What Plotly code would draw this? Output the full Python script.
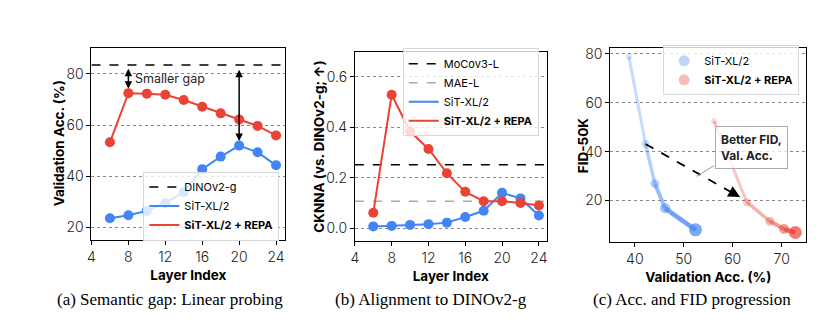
import plotly.graph_objects as go

# ---------------- data ----------------
layers = [6, 8, 10, 12, 14, 16, 18, 20, 22, 24]

# (a) linear probing
acc_sit = [23.6, 24.8, 26.5, 29.5, 33.9, 42.8, 47.7, 52.0, 49.4, 44.3]
acc_repa = [53.3, 72.5, 72.3, 71.9, 69.8, 67.2, 64.6, 62.2, 59.7, 56.0]
acc_dino = 83.5

# (b) CKNNA alignment
cknna_sit = [0.007, 0.009, 0.013, 0.016, 0.022, 0.044, 0.069, 0.140, 0.118, 0.050]
cknna_repa = [0.061, 0.529, 0.384, 0.314, 0.218, 0.144, 0.107, 0.107, 0.100, 0.090]
cknna_mocov3 = 0.251
cknna_mae = 0.107

# (c) Acc vs FID progression
prog_sit_acc = [38.8, 42.2, 44.1, 46.2, 52.4]
prog_sit_fid = [78.8, 43.1, 26.9, 16.8, 8.0]
prog_repa_acc = [56.2, 62.9, 67.6, 70.5, 72.8]
prog_repa_fid = [52.4, 19.3, 11.5, 8.3, 6.9]

captions = ["(a) Semantic gap: Linear probing", "(b) Alignment to DINOv2-g",
            "(c) Acc. and FID progression"]
y_titles = ["Validation Acc. (%)", "CKNNA (vs. DINOv2-g; ↑)", "FID-50K"]

# ---------------- style ----------------
BLUE = (66, 133, 244)
RED = (234, 67, 53)
FONT = "Inter"


def rgba(c, a):
    return f"rgba({c[0]},{c[1]},{c[2]},{a})"


fig = go.Figure()

# ---- panel a ----
fig.add_trace(go.Scatter(x=[4, 25], y=[acc_dino, acc_dino], mode="lines",
                         line=dict(color="black", width=1.5, dash="dash"),
                         name="DINOv2-g", legend="legend", xaxis="x", yaxis="y"))
fig.add_trace(go.Scatter(x=layers, y=acc_sit, mode="lines+markers",
                         line=dict(color=rgba(BLUE, 1), width=2),
                         marker=dict(size=10, color=rgba(BLUE, 1)),
                         showlegend=False, xaxis="x", yaxis="y"))
fig.add_trace(go.Scatter(x=layers, y=acc_repa, mode="lines+markers",
                         line=dict(color=rgba(RED, 1), width=2),
                         marker=dict(size=10, color=rgba(RED, 1)),
                         showlegend=False, xaxis="x", yaxis="y"))
fig.add_trace(go.Scatter(x=[None], y=[None], mode="lines",
                         line=dict(color=rgba(BLUE, 1), width=2),
                         name="SiT-XL/2", legend="legend", xaxis="x", yaxis="y"))
fig.add_trace(go.Scatter(x=[None], y=[None], mode="lines",
                         line=dict(color=rgba(RED, 1), width=2),
                         name="<b>SiT-XL/2 + REPA</b>", legend="legend", xaxis="x", yaxis="y"))

# ---- panel b ----
fig.add_trace(go.Scatter(x=[4, 25], y=[cknna_mocov3, cknna_mocov3], mode="lines",
                         line=dict(color="black", width=1.5, dash="dash"),
                         name="MoCov3-L", legend="legend2", xaxis="x2", yaxis="y2"))
fig.add_trace(go.Scatter(x=[4, 25], y=[cknna_mae, cknna_mae], mode="lines",
                         line=dict(color="#aaaaaa", width=1.5, dash="dash"),
                         name="MAE-L", legend="legend2", xaxis="x2", yaxis="y2"))
fig.add_trace(go.Scatter(x=layers, y=cknna_sit, mode="lines+markers",
                         line=dict(color=rgba(BLUE, 1), width=2),
                         marker=dict(size=10, color=rgba(BLUE, 1)),
                         showlegend=False, xaxis="x2", yaxis="y2"))
fig.add_trace(go.Scatter(x=layers, y=cknna_repa, mode="lines+markers",
                         line=dict(color=rgba(RED, 1), width=2),
                         marker=dict(size=10, color=rgba(RED, 1)),
                         showlegend=False, xaxis="x2", yaxis="y2"))
fig.add_trace(go.Scatter(x=[None], y=[None], mode="lines",
                         line=dict(color=rgba(BLUE, 1), width=2),
                         name="SiT-XL/2", legend="legend2", xaxis="x2", yaxis="y2"))
fig.add_trace(go.Scatter(x=[None], y=[None], mode="lines",
                         line=dict(color=rgba(RED, 1), width=2),
                         name="<b>SiT-XL/2 + REPA</b>", legend="legend2", xaxis="x2", yaxis="y2"))

# ---- panel c ----
seg_alpha = [0.3, 0.4, 0.55, 0.75]
seg_width = [3, 3.5, 4, 4.5]
pt_alpha = [0.3, 0.4, 0.55, 0.75, 1.0]
pt_size = [6, 8, 9, 10, 13]
for accs, fids, col in [(prog_sit_acc, prog_sit_fid, BLUE), (prog_repa_acc, prog_repa_fid, RED)]:
    for i in range(len(accs) - 1):
        fig.add_trace(go.Scatter(x=accs[i:i + 2], y=fids[i:i + 2], mode="lines",
                                 line=dict(color=rgba(col, seg_alpha[i]), width=seg_width[i]),
                                 showlegend=False, xaxis="x3", yaxis="y3"))
    fig.add_trace(go.Scatter(x=accs, y=fids, mode="markers",
                             marker=dict(size=pt_size, color=[rgba(col, a) for a in pt_alpha],
                                         line=dict(width=0)),
                             showlegend=False, xaxis="x3", yaxis="y3"))
fig.add_trace(go.Scatter(x=[None], y=[None], mode="markers",
                         marker=dict(size=11, color=rgba(BLUE, 0.35)),
                         name="SiT-XL/2", legend="legend3", xaxis="x3", yaxis="y3"))
fig.add_trace(go.Scatter(x=[None], y=[None], mode="markers",
                         marker=dict(size=11, color=rgba(RED, 0.35)),
                         name="<b>SiT-XL/2 + REPA</b>", legend="legend3", xaxis="x3", yaxis="y3"))

# dashed arrow (c)
arrow_start = (prog_sit_acc[1], prog_sit_fid[1])
arrow_end = (61.5, 21.4)
fig.add_trace(go.Scatter(x=[arrow_start[0], arrow_end[0]], y=[arrow_start[1], arrow_end[1]],
                         mode="lines", line=dict(color="black", width=1.8, dash="dash"),
                         showlegend=False, xaxis="x3", yaxis="y3"))

# ---------------- layout ----------------
tickfont = dict(family=FONT, size=14, color="#222", weight=300)
titlefont = dict(family=FONT, size=13.5, color="black", weight="bold")


def xax(domain, anchor, rng, tickvals, title):
    return dict(domain=domain, anchor=anchor, range=rng, tickvals=tickvals,
                showline=True, linecolor="black", linewidth=1, mirror=True,
                ticks="outside", ticklen=4, tickcolor="black", showgrid=False,
                zeroline=False, tickfont=tickfont,
                title=dict(text=title, font=titlefont, standoff=6))


def yax(domain, anchor, rng, tickvals, ticktext):
    return dict(domain=domain, anchor=anchor, range=rng, tickvals=tickvals, ticktext=ticktext,
                showline=True, linecolor="black", linewidth=1, mirror=True,
                ticks="outside", ticklen=4, tickcolor="black",
                showgrid=True, gridcolor="#888", griddash="dot", gridwidth=1,
                zeroline=False, tickfont=tickfont)


W, H = 829, 326
xt = [4, 8, 12, 16, 20, 24]

legend_style = dict(bgcolor="rgba(255,255,255,0.8)", bordercolor="#d8d8d8", borderwidth=1,
                    font=dict(family=FONT, size=11, color="black"), itemwidth=30,
                    xref="paper", yref="paper", xanchor="right", yanchor="middle",
                    tracegroupgap=0)

annotations = [
    dict(x=8, y=74.2, ax=8, ay=82.6, xref="x", yref="y", axref="x", ayref="y",
         text="", showarrow=True, arrowhead=2, startarrowhead=2, arrowside="end+start",
         arrowsize=1, arrowwidth=1.5, arrowcolor="black"),
    dict(x=20, y=53.8, ax=20, ay=82.2, xref="x", yref="y", axref="x", ayref="y",
         text="", showarrow=True, arrowhead=2, startarrowhead=2, arrowside="end+start",
         arrowsize=1, arrowwidth=1.5, arrowcolor="black"),
    dict(x=8.45, y=78.3, xref="x", yref="y", text="Smaller gap", showarrow=False,
         xanchor="left", yanchor="middle", font=dict(family=FONT, size=12.5, color="#222")),
    dict(x=arrow_end[0], y=arrow_end[1], xref="x3", yref="y3", ax=-5.2, ay=-2.9,
         text="", showarrow=True, arrowhead=2, arrowsize=1.3, arrowwidth=1.8, arrowcolor="black"),
    dict(x=63.8, y=41.5, xref="x3", yref="y3", text="<b>Better FID,<br>Val. Acc.</b>",
         showarrow=False, align="left", bordercolor="#aaaaaa", borderwidth=1, borderpad=5,
         bgcolor="rgba(255,255,255,0.75)", font=dict(family=FONT, size=12, color="#222")),
]
cap_x = [167 / W, 429.5 / W, 692.5 / W]
for cx, txt in zip(cap_x, captions):
    annotations.append(dict(x=cx, y=1 - 299 / H, xref="paper", yref="paper", text=txt,
                            showarrow=False, xanchor="center", yanchor="middle",
                            font=dict(family="Liberation Serif", size=17, color="black")))
# y-axis titles
ytitle_x = [55 / W, 317 / W, 582 / W]
ytitle_y = [1 - 142 / H, 1 - 145 / H, 1 - 143 / H]
for tx, ty, txt in zip(ytitle_x, ytitle_y, y_titles):
    annotations.append(dict(x=tx, y=ty, xref="paper", yref="paper", text=txt, textangle=-90,
                            showarrow=False, xanchor="center", yanchor="middle",
                            font=titlefont))

shapes = [dict(type="line", xref="x3", yref="y3", x0=52.6, y0=29.9, x1=56.15, y1=34.2,
               line=dict(color="#999999", width=1))]

fig.update_layout(
    width=W, height=H, margin=dict(l=0, r=0, t=0, b=0),
    paper_bgcolor="white", plot_bgcolor="white",
    xaxis=xax([88 / W, 283 / W], "y", [4, 25], xt, "Layer Index"),
    yaxis=yax([1 - 239 / H, 1 - 45 / H], "x", [15.2, 90.3], [20, 40, 60, 80], None),
    xaxis2=xax([353 / W, 546 / W], "y2", [4, 24.85], xt, "Layer Index"),
    yaxis2=yax([1 - 240 / H, 1 - 49 / H], "x2", [-0.05, 0.7], [0, 0.2, 0.4, 0.6],
               ["0.0", "0.2", "0.4", "0.6"]),
    xaxis3=xax([610 / W, 807 / W], "y3", [35, 75], [40, 50, 60, 70], "Validation Acc. (%)"),
    yaxis3=yax([1 - 241 / H, 1 - 45 / H], "x3", [3.1, 82.6], [20, 40, 60, 80], None),
    legend=dict(x=277 / W, y=1 - 205 / H, **legend_style),
    legend2=dict(x=538 / W, y=1 - 90 / H, **legend_style),
    legend3=dict(x=800 / W, y=1 - 68 / H, **legend_style),
    annotations=annotations, shapes=shapes,
)

fig.write_html("out.html")
